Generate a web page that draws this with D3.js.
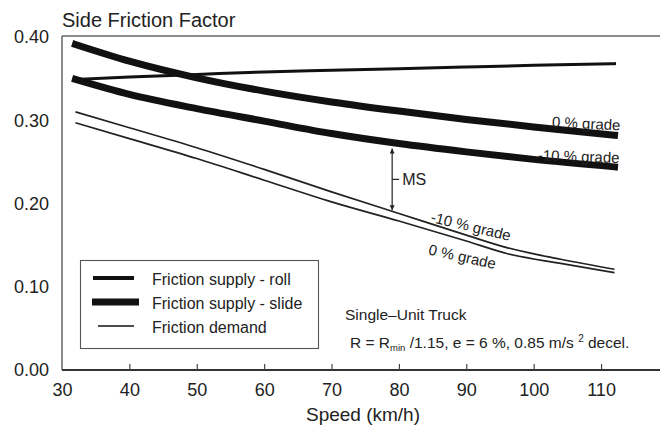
<!DOCTYPE html>
<html>
<head>
<meta charset="utf-8">
<script src="https://cdn.jsdelivr.net/npm/d3@7"></script>
<style>
  html, body { margin: 0; padding: 0; background: #fff; }
  svg { display: block; font-family: "Liberation Sans", Arial, Helvetica, sans-serif; }
  text { fill: #222; white-space: pre; }
</style>
</head>
<body>
<svg id="chart" width="660" height="429"></svg>
<script>
// Speeds (km/h) at which the friction curves are sampled
const supplySpeeds = [32, 40, 50, 60, 70, 80, 90, 100, 112];
const rollSupply   = [0.349, 0.352, 0.355, 0.358, 0.360, 0.362, 0.364, 0.366, 0.368];
const slideSupply0 = [0.391, 0.371, 0.351, 0.335, 0.322, 0.311, 0.301, 0.292, 0.282];
const slideSupply10 = [0.349, 0.331, 0.314, 0.299, 0.284, 0.272, 0.262, 0.253, 0.244];

const demandSpeeds = [32, 40, 50, 60, 70, 80, 90, 96, 104, 112];
const demand10 = [0.310, 0.291, 0.267, 0.241, 0.214, 0.188, 0.162, 0.147, 0.133, 0.121];
const demand0  = [0.297, 0.278, 0.254, 0.228, 0.202, 0.179, 0.155, 0.140, 0.128, 0.117];

const xTicks = [30, 40, 50, 60, 70, 80, 90, 100, 110];
const yTicks = [0.00, 0.10, 0.20, 0.30, 0.40];

// Margin of safety bracket (speed, upper and lower friction values)
const msSpeed = 79, msTop = 0.266, msBottom = 0.192;

const legendItems = ["Friction supply - roll", "Friction supply - slide", "Friction demand"];

const svg = d3.select("#chart");
const x = d3.scaleLinear().domain([30, 118.75]).range([62, 660]);
const y = d3.scaleLinear().domain([0, 0.4]).range([370, 37]);

// Frame: top edge and left axis
svg.append("line")
  .attr("x1", x(30)).attr("x2", 660)
  .attr("y1", 36).attr("y2", 36)
  .attr("stroke", "#666").attr("stroke-width", 1.4);

const yAxis = svg.append("g")
  .attr("transform", `translate(${x(30)},0)`)
  .call(d3.axisLeft(y).tickValues(yTicks).tickFormat(d3.format(".2f")).tickSize(0).tickPadding(13));
yAxis.select(".domain").attr("stroke", "#666").attr("stroke-width", 1.5).attr("d", `M0,36V${y(0)}`);
yAxis.selectAll("text").attr("font-size", 18).attr("fill", "#222").style("font-family", "inherit");

const xAxis = svg.append("g")
  .attr("transform", `translate(0,${y(0)})`)
  .call(d3.axisBottom(x).tickValues(xTicks).tickSize(-6).tickPadding(13));
xAxis.select(".domain").attr("stroke", "#333").attr("stroke-width", 1.8).attr("d", `M${x(30)},0H660`);
xAxis.selectAll(".tick line").attr("stroke", "#444").attr("stroke-width", 1.2);
xAxis.select(".tick line").remove();
xAxis.selectAll("text").attr("font-size", 18).attr("fill", "#222").style("font-family", "inherit");

// Titles
svg.append("text").attr("x", 62).attr("y", 27).attr("font-size", 20).text("Side Friction Factor");
svg.append("text").attr("x", 363).attr("y", 421).attr("font-size", 19)
  .attr("text-anchor", "middle").text("Speed (km/h)");

// Curves
const toPts = (sp, vals) => sp.map((s, i) => [s, vals[i]]);
const smooth = d3.line().x(d => x(d[0])).y(d => y(d[1])).curve(d3.curveMonotoneX);

svg.append("path").attr("d", smooth(toPts(supplySpeeds, slideSupply0)))
  .attr("fill", "none").attr("stroke", "#111").attr("stroke-width", 7).attr("stroke-linecap", "square");
svg.append("path").attr("d", smooth(toPts(supplySpeeds, slideSupply10)))
  .attr("fill", "none").attr("stroke", "#111").attr("stroke-width", 7).attr("stroke-linecap", "square");
svg.append("path").attr("d", smooth(toPts(supplySpeeds, rollSupply)))
  .attr("fill", "none").attr("stroke", "#111").attr("stroke-width", 3).attr("stroke-linecap", "square");
svg.append("path").attr("d", smooth(toPts(demandSpeeds, demand10)))
  .attr("fill", "none").attr("stroke", "#222").attr("stroke-width", 1.7);
svg.append("path").attr("d", smooth(toPts(demandSpeeds, demand0)))
  .attr("fill", "none").attr("stroke", "#222").attr("stroke-width", 1.7);

// Curve labels
const curveLabels = [
  { s: 102.7, v: 0.292, rot: 3, text: "0 % grade" },
  { s: 100.6, v: 0.252, rot: 2, text: "-10 % grade" },
  { s: 84.6, v: 0.178, rot: 13.5, text: "-10 % grade" },
  { s: 84.3, v: 0.139, rot: 12.5, text: "0 % grade" }
];
curveLabels.forEach(d => {
  svg.append("text")
    .attr("transform", `translate(${x(d.s)},${y(d.v)}) rotate(${d.rot})`)
    .attr("font-size", 15).text(d.text);
});

// Margin of safety bracket
const defs = svg.append("defs");
defs.append("marker").attr("id", "ah").attr("viewBox", "0 0 10 10")
  .attr("refX", 10).attr("refY", 5).attr("markerWidth", 5).attr("markerHeight", 6)
  .attr("orient", "auto-start-reverse").attr("markerUnits", "userSpaceOnUse")
  .append("path").attr("d", "M0,0L10,5L0,10Z").attr("fill", "#222");
svg.append("line")
  .attr("x1", x(msSpeed)).attr("x2", x(msSpeed))
  .attr("y1", y(msTop)).attr("y2", y(msBottom))
  .attr("stroke", "#222").attr("stroke-width", 1.2)
  .attr("marker-start", "url(#ah)").attr("marker-end", "url(#ah)");
const msMid = y((msTop + msBottom) / 2);
svg.append("line")
  .attr("x1", x(msSpeed)).attr("x2", x(msSpeed) + 7)
  .attr("y1", msMid).attr("y2", msMid)
  .attr("stroke", "#222").attr("stroke-width", 1.2);
svg.append("text").attr("x", x(msSpeed) + 10).attr("y", msMid + 6)
  .attr("font-size", 16).text("MS");

// Legend
const lg = svg.append("g");
lg.append("rect").attr("x", 80.5).attr("y", 260.5).attr("width", 238).attr("height", 88)
  .attr("fill", "#fff").attr("stroke", "#555").attr("stroke-width", 1.1);
const legendStyles = [
  { x1: 93, x2: 134, w: 4, cy: 278 },
  { x1: 92, x2: 139, w: 7, cy: 302 },
  { x1: 98, x2: 134, w: 1.6, cy: 326 }
];
legendItems.forEach((t, i) => {
  const st = legendStyles[i];
  lg.append("line").attr("x1", st.x1).attr("x2", st.x2).attr("y1", st.cy).attr("y2", st.cy)
    .attr("stroke", "#111").attr("stroke-width", st.w);
  lg.append("text").attr("x", 152).attr("y", st.cy + 6.5).attr("font-size", 16).text(t);
});

// Notes
svg.append("text").attr("x", 345).attr("y", 320).attr("font-size", 15.5).text("Single\u2013Unit Truck");
const note = svg.append("text").attr("x", 350).attr("y", 348).attr("font-size", 15.5);
note.append("tspan").text("R = R");
note.append("tspan").attr("font-size", 9.5).attr("dy", 3).text("min");
note.append("tspan").attr("dy", -3).text(" /1.15, e = 6 %, 0.85 m/s ");
note.append("tspan").attr("font-size", 10).attr("dy", -6).text("2");
note.append("tspan").attr("dy", 6).text(" decel.");
</script>
</body>
</html>
